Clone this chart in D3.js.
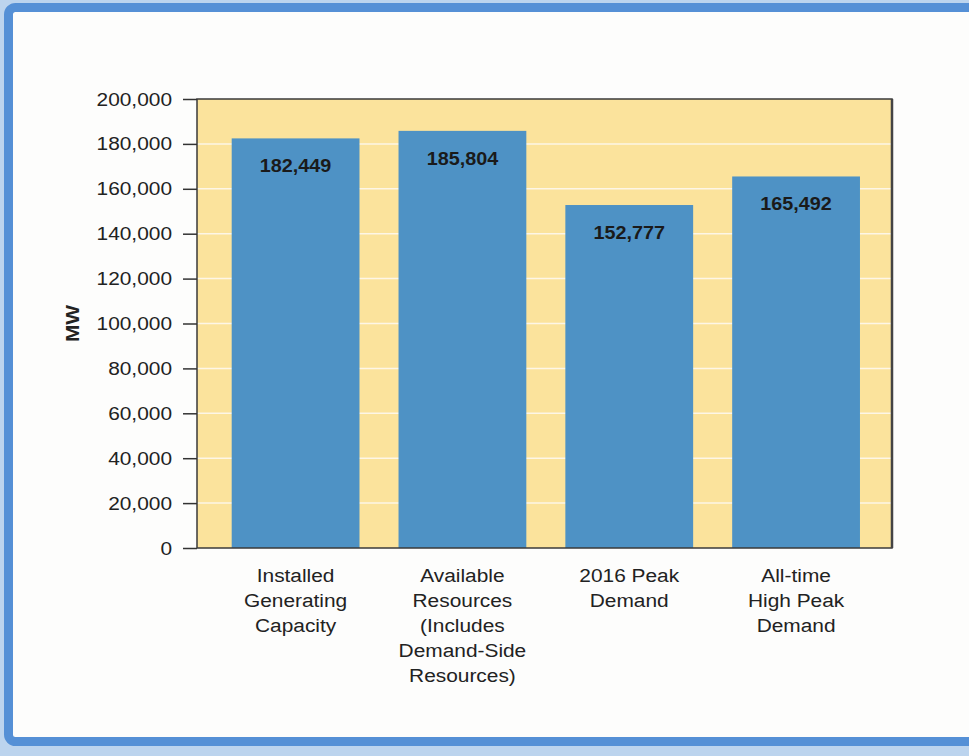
<!DOCTYPE html>
<html>
<head>
<meta charset="utf-8">
<script src="https://cdnjs.cloudflare.com/ajax/libs/d3/7.8.5/d3.min.js"></script>
<style>
    body { margin: 0; background: #bcd4ee; }
    svg { display: block; font-family: "Liberation Sans", Arial, sans-serif; }
</style>
</head>
<body>
<div id="chart"></div>
<script>
// data
var categories = ["Installed Generating Capacity", "Available Resources (Includes Demand-Side Resources)", "2016 Peak Demand", "All-time High Peak Demand"];
var categoryLines = [
    ["Installed", "Generating", "Capacity"],
    ["Available", "Resources", "(Includes", "Demand-Side", "Resources)"],
    ["2016 Peak", "Demand"],
    ["All-time", "High Peak", "Demand"]
];
var values = [182449, 185804, 152777, 165492];
var yTicks = [0, 20000, 40000, 60000, 80000, 100000, 120000, 140000, 160000, 180000, 200000];
var yLabel = "MW";

var width = 969, height = 756;
var sx = 1.16; // the source text is a bit wide

var svg = d3.select("#chart").append("svg")
    .attr("width", width)
    .attr("height", height);

// outer frame
svg.append("rect")
    .attr("x", 0).attr("y", 0)
    .attr("width", width).attr("height", height)
    .attr("fill", "#bcd4ee");

svg.append("rect")
    .attr("x", 8.5).attr("y", 7.5)
    .attr("width", width + 20).attr("height", 734)
    .attr("rx", 7)
    .attr("fill", "#fdfdfc")
    .attr("stroke", "#5590d6")
    .attr("stroke-width", 9);

var plot = { left: 197, right: 892, top: 99, bottom: 548 };

var x = d3.scaleBand()
    .domain(categories)
    .range([plot.left, plot.right])
    .paddingInner(0.234)
    .paddingOuter(0.2)
    .align(0.52);

var y = d3.scaleLinear()
    .domain([0, 200000])
    .range([plot.bottom, plot.top]);

var g = svg.append("g");

// plot background
g.append("rect")
    .attr("x", plot.left)
    .attr("y", plot.top)
    .attr("width", plot.right - plot.left)
    .attr("height", plot.bottom - plot.top)
    .attr("fill", "#fbe39c");

// gridlines
g.selectAll(".grid")
    .data(yTicks.filter(function (d) { return d > 0 && d < 200000; }))
    .enter().append("line")
    .attr("class", "grid")
    .attr("x1", plot.left)
    .attr("x2", plot.right)
    .attr("y1", function (d) { return y(d); })
    .attr("y2", function (d) { return y(d); })
    .attr("stroke", "#fdf6e6")
    .attr("stroke-width", 1.5);

// bars
g.selectAll(".bar")
    .data(values)
    .enter().append("rect")
    .attr("class", "bar")
    .attr("x", function (d, i) { return x(categories[i]); })
    .attr("width", x.bandwidth())
    .attr("y", function (d) { return y(d); })
    .attr("height", function (d) { return y(0) - y(d); })
    .attr("fill", "#4e92c5");

// value labels
g.selectAll(".val")
    .data(values)
    .enter().append("text")
    .attr("class", "val")
    .attr("transform", function (d, i) {
        return "translate(" + (x(categories[i]) + x.bandwidth() / 2) + "," + (y(d) + 34) + ")scale(1.1,1)";
    })
    .attr("text-anchor", "middle")
    .attr("font-size", "18px")
    .attr("font-weight", "bold")
    .attr("fill", "#1a1a1a")
    .text(function (d) { return d3.format(",")(d); });

// plot border
g.append("rect")
    .attr("x", plot.left)
    .attr("y", plot.top)
    .attr("width", plot.right - plot.left)
    .attr("height", plot.bottom - plot.top)
    .attr("fill", "none")
    .attr("stroke", "#3a3a3a")
    .attr("stroke-width", 1.5);

g.append("line")
    .attr("x1", plot.right).attr("x2", plot.right)
    .attr("y1", plot.top).attr("y2", plot.bottom)
    .attr("stroke", "#444")
    .attr("stroke-width", 2.5);

// y axis
var yAxis = d3.axisLeft(y)
    .tickValues(yTicks)
    .tickSize(14)
    .tickFormat("");

var ya = svg.append("g")
    .attr("transform", "translate(" + plot.left + ",0)")
    .call(yAxis);
ya.select(".domain").remove();
ya.selectAll(".tick line").attr("stroke", "#333").attr("stroke-width", 1.5);

svg.selectAll(".ylab")
    .data(yTicks)
    .enter().append("text")
    .attr("class", "ylab")
    .attr("transform", function (d) { return "translate(172," + (y(d) + 6.5) + ")scale(" + sx + ",1)"; })
    .attr("text-anchor", "end")
    .attr("font-size", "18px")
    .attr("fill", "#222")
    .text(d3.format(","));

// y label
svg.append("text")
    .attr("transform", "translate(79," + ((plot.top + plot.bottom) / 2) + ")rotate(-90)scale(1.1,1)")
    .attr("text-anchor", "middle")
    .attr("font-size", "19px")
    .attr("font-weight", "bold")
    .attr("fill", "#222")
    .text(yLabel);

// x labels
var xl = svg.selectAll(".xlab")
    .data(categories)
    .enter().append("text")
    .attr("class", "xlab")
    .attr("text-anchor", "middle")
    .attr("font-size", "18px")
    .attr("fill", "#222")
    .attr("transform", function (d) { return "translate(" + (x(d) + x.bandwidth() / 2) + ",582)scale(" + sx + ",1)"; });

xl.selectAll("tspan")
    .data(function (d, i) { return categoryLines[i]; })
    .enter().append("tspan")
    .attr("x", 0)
    .attr("dy", function (d, i) { return i === 0 ? 0 : 25; })
    .text(function (d) { return d; });
</script>
</body>
</html>
